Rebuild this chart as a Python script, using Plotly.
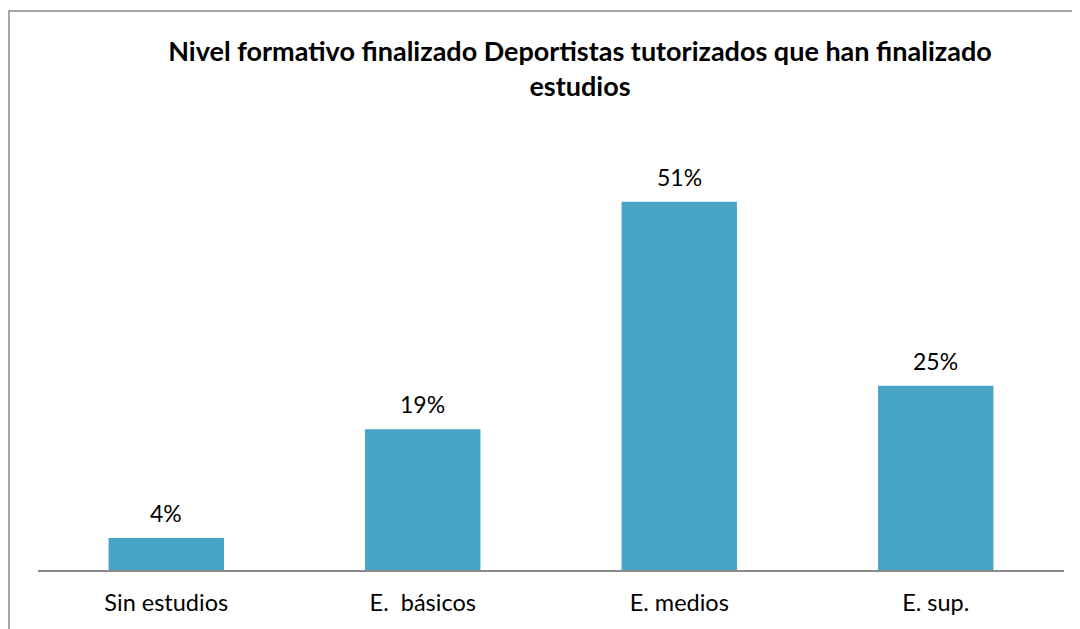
import plotly.graph_objects as go

# Data
categories = ["Sin estudios", "E.  básicos", "E. medios", "E. sup."]
values = [4.4, 19.4, 50.8, 25.4]
labels = ["4%", "19%", "51%", "25%"]

BAR_COLOR = "#47a4c4"
FONT = "Lato, 'Open Sans', sans-serif"

# page body has an 8px margin, so the figure is sized to fill the rest
W, H = 1072, 621

fig = go.Figure()
fig.add_trace(go.Bar(
    x=categories,
    y=values,
    marker=dict(color=BAR_COLOR, line=dict(width=0)),
    hoverinfo="skip",
))

# value labels above bars
for cat, val, lab in zip(categories, values, labels):
    fig.add_annotation(
        x=cat, y=val, text=lab, showarrow=False,
        yanchor="bottom", yshift=9,
        font=dict(family=FONT, size=23, color="#000000"),
    )

plot_h = 562 - 127
fig.update_layout(
    width=W,
    height=H,
    paper_bgcolor="white",
    plot_bgcolor="white",
    bargap=0.55,
    showlegend=False,
    margin=dict(l=30, r=16, t=127, b=H - 562),
    title=dict(
        text="<b>Nivel formativo finalizado Deportistas tutorizados que han finalizado<br>estudios</b>",
        x=572 / W, xanchor="center",
        y=1 - 53 / H, yanchor="top",
        font=dict(family=FONT, size=27, color="#000000"),
    ),
    shapes=[dict(
        type="rect", xref="paper", yref="paper",
        x0=(1 - 30) / 1026, x1=1.2, y0=-0.3, y1=(562 - 3) / plot_h,
        line=dict(color="#8a8a8a", width=1.5),
        fillcolor="rgba(0,0,0,0)",
        layer="below",
    )],
)

fig.update_xaxes(
    showline=True, linecolor="#8a8a8a", linewidth=1.5,
    showgrid=False, ticks="", ticklabelstandoff=11,
    tickfont=dict(family=FONT, size=23.5, color="#000000"),
)
fig.update_yaxes(
    range=[0, 60], visible=False, showgrid=False, zeroline=False,
)

fig.write_html("out.html")
